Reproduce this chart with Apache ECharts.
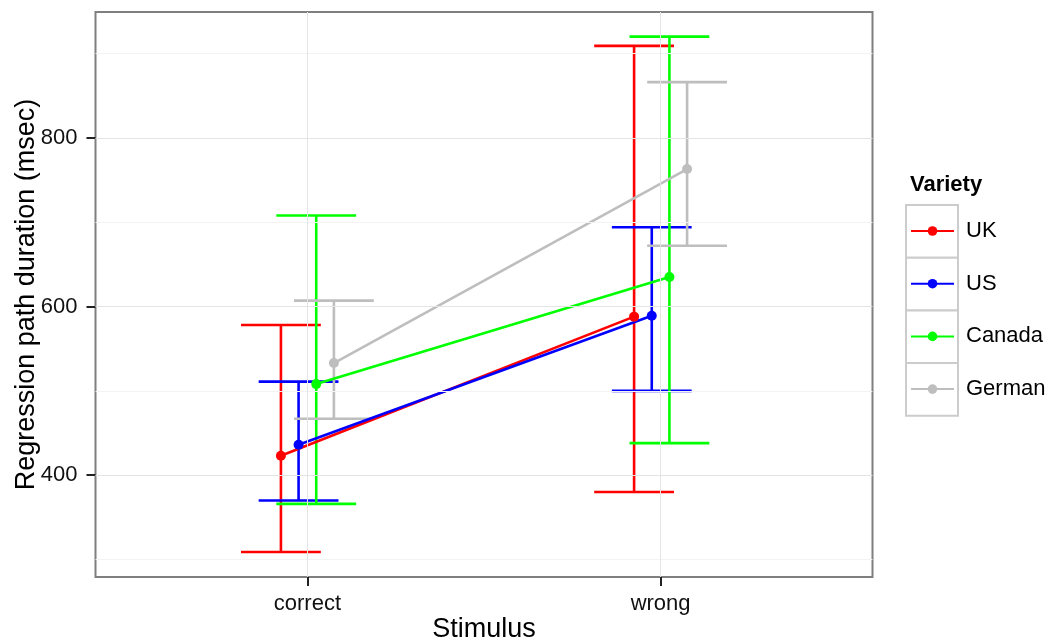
<!DOCTYPE html>
<html>
<head>
<meta charset="utf-8">
<script src="https://cdn.jsdelivr.net/npm/echarts@6/dist/echarts.min.js"></script>
<style>
  html, body { margin: 0; padding: 0; background: #fff; }
  #chart { width: 1049px; height: 640px; }
</style>
</head>
<body>
<div id="chart"></div>
<script>
// Stimulus categories on the x axis
const stimuli = ['correct', 'wrong'];
// Groups (one line + error bars each)
const varieties = ['UK', 'US', 'Canada', 'German'];
const varietyColors = ['#ff0000', '#0000ff', '#00ff00', '#bebebe'];

// Mean regression path duration (msec) per stimulus: [correct, wrong]
const meanUK = [423, 588];
const meanUS = [436, 589];
const meanCanada = [508, 635];
const meanGerman = [533, 763];

// Error bar lower / upper limits per stimulus: [correct, wrong]
const lowerUK = [309, 380];
const upperUK = [578, 909];
const lowerUS = [370, 500];
const upperUS = [511, 694];
const lowerCanada = [366, 438];
const upperCanada = [708, 920];
const lowerGerman = [467, 672];
const upperGerman = [607, 866];

// Axis ticks
const yMajorTicks = [400, 600, 800];
const yMinorTicks = [300, 500, 700, 900];

const means = [meanUK, meanUS, meanCanada, meanGerman];
const lowers = [lowerUK, lowerUS, lowerCanada, lowerGerman];
const uppers = [upperUK, upperUS, upperCanada, upperGerman];

// Layout of the dodged groups (in x-axis units)
const DODGE_STEP = 0.05;
const CAP_HALF = 0.113;
const LINE_W = 2.6;
const FONT = '"Liberation Sans", Arial, sans-serif';

function dodge(i) {
  return (i - (varieties.length - 1) / 2) * DODGE_STEP;
}

function errorBarItem(params, api) {
  const x = api.value(0);
  const top = api.coord([x, api.value(2)]);
  const bot = api.coord([x, api.value(1)]);
  const halfW = api.size([CAP_HALF, 0])[0];
  const style = { stroke: api.visual('color'), lineWidth: LINE_W, fill: null };
  return {
    type: 'group',
    children: [
      { type: 'line', shape: { x1: top[0], y1: top[1], x2: bot[0], y2: bot[1] }, style },
      { type: 'line', shape: { x1: top[0] - halfW, y1: top[1], x2: top[0] + halfW, y2: top[1] }, style },
      { type: 'line', shape: { x1: bot[0] - halfW, y1: bot[1], x2: bot[0] + halfW, y2: bot[1] }, style }
    ]
  };
}

const series = [];

// Panel grid lines
series.push({
  type: 'line',
  data: [],
  silent: true,
  z: 1,
  markLine: {
    silent: true,
    symbol: 'none',
    label: { show: false },
    animation: false,
    data: [
      ...yMinorTicks.map(v => ({ yAxis: v, lineStyle: { color: '#f3f3f3', width: 1, type: 'solid' } })),
      ...yMajorTicks.map(v => ({ yAxis: v, lineStyle: { color: '#e4e4e4', width: 1, type: 'solid' } })),
      ...stimuli.map((s, i) => ({ xAxis: i + 1, lineStyle: { color: '#e4e4e4', width: 1, type: 'solid' } }))
    ]
  }
});

// Error bars
varieties.forEach((name, g) => {
  series.push({
    name: name + ' range',
    type: 'custom',
    renderItem: errorBarItem,
    itemStyle: { color: varietyColors[g] },
    z: 2,
    silent: true,
    data: stimuli.map((s, i) => [i + 1 + dodge(g), lowers[g][i], uppers[g][i]])
  });
});

// Mean lines with points
varieties.forEach((name, g) => {
  series.push({
    name: name,
    type: 'line',
    z: 3,
    symbol: 'circle',
    symbolSize: 10,
    showSymbol: true,
    lineStyle: { color: varietyColors[g], width: LINE_W },
    itemStyle: { color: varietyColors[g] },
    emphasis: { disabled: true },
    data: stimuli.map((s, i) => [i + 1 + dodge(g), means[g][i]])
  });
});

const chart = echarts.init(document.getElementById('chart'), null, { renderer: 'canvas' });

chart.setOption({
  animation: false,
  backgroundColor: '#ffffff',
  textStyle: { fontFamily: FONT },
  grid: {
    left: 95.5, right: 176.5, top: 12, bottom: 63,
    outerBoundsMode: 'none',
    containLabel: false,
    show: true, borderColor: '#7f7f7f', borderWidth: 2, backgroundColor: 'transparent'
  },
  title: {
    text: 'Variety',
    left: 905, top: 169,
    textStyle: { fontFamily: FONT, fontSize: 22, fontWeight: 'bold', color: '#000' }
  },
  legend: {
    data: varieties,
    orient: 'vertical',
    left: 910, top: 220,
    padding: 0,
    itemWidth: 43, itemHeight: 12,
    itemGap: 30.7,
    z: 5,
    selectedMode: false,
    textStyle: { fontFamily: FONT, fontSize: 22, color: '#000', padding: [0, 0, 0, 7], lineHeight: 22 }
  },
  graphic: varieties.map((v, i) => ({
    type: 'rect',
    z: 0,
    silent: true,
    shape: { x: 906, y: 205 + i * 52.7, width: 52, height: 52.7 },
    style: { fill: '#ffffff', stroke: '#cccccc', lineWidth: 2 }
  })),
  xAxis: {
    type: 'value',
    min: 0.4, max: 2.6,
    name: 'Stimulus',
    nameLocation: 'middle',
    nameGap: 39,
    nameMoveOverlap: false,
    nameTextStyle: { fontFamily: FONT, fontSize: 27, color: '#000' },
    axisLine: { show: false },
    axisTick: { show: true, customValues: [1, 2], length: 9, lineStyle: { color: '#222', width: 2 } },
    axisLabel: {
      customValues: [1, 2], margin: 16,
      fontFamily: FONT, fontSize: 22, color: '#111',
      formatter: v => stimuli[Math.round(v) - 1]
    },
    splitLine: { show: false }
  },
  yAxis: {
    type: 'value',
    min: 279.3, max: 949.2,
    name: 'Regression path duration (msec)',
    nameLocation: 'middle',
    nameGap: 55,
    nameMoveOverlap: false,
    nameTextStyle: { fontFamily: FONT, fontSize: 27, color: '#000' },
    axisLine: { show: false },
    axisTick: { show: true, customValues: yMajorTicks, length: 9, lineStyle: { color: '#222', width: 2 } },
    axisLabel: { customValues: yMajorTicks, margin: 18, fontFamily: FONT, fontSize: 22, color: '#111' },
    splitLine: { show: false }
  },
  series: series
});
</script>
</body>
</html>
